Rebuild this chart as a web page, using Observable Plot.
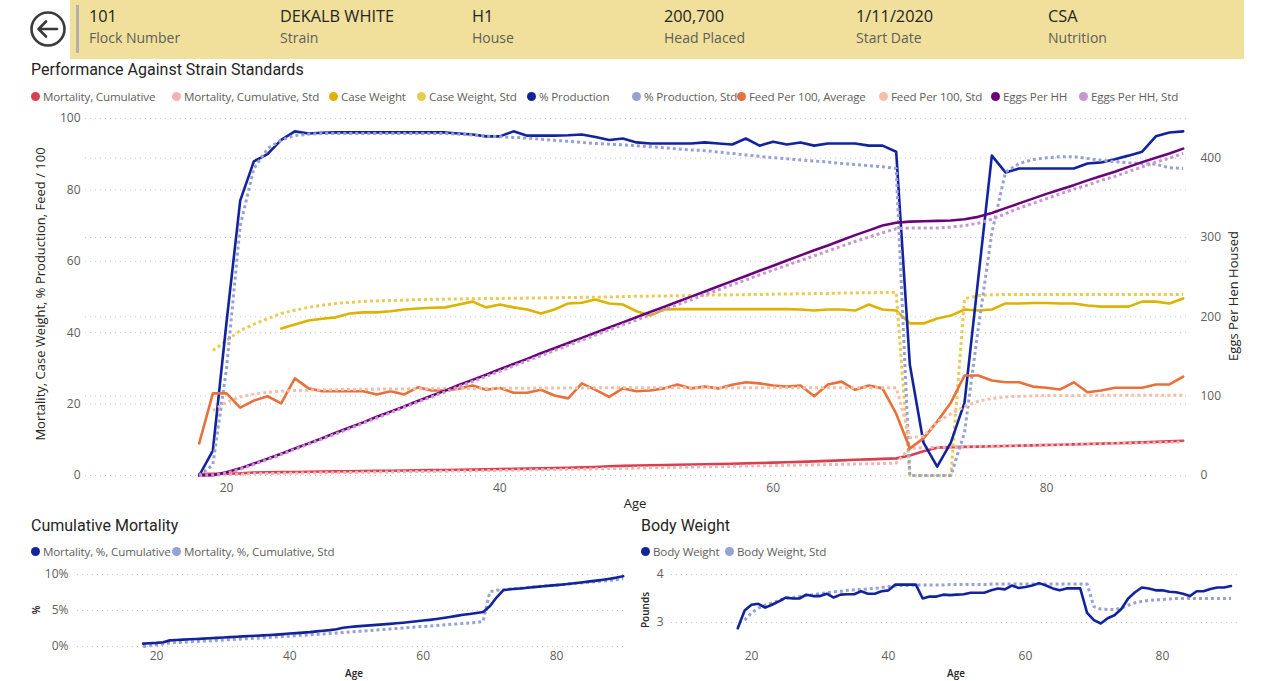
<!DOCTYPE html>
<html>
<head>
<meta charset="utf-8">
<script src="https://cdn.jsdelivr.net/npm/d3@7"></script>
<script src="https://cdn.jsdelivr.net/npm/@observablehq/plot@0.6"></script>
<style>
  html, body { margin: 0; padding: 0; background: #fff; }
  #page { position: relative; width: 1264px; height: 681px; overflow: hidden; font-family: "Open Sans", sans-serif; }
  .abs { position: absolute; }
  .band { left: 70px; top: 0; width: 1174px; height: 59px; background: #F0E09B; }
  .bar { left: 76px; top: 5px; width: 3px; height: 48px; background: #B3B0AD; }
  .hv { font-size: 16.3px; color: #252423; white-space: nowrap; }
  .hl { font-size: 14px; color: #605E5C; white-space: nowrap; }
  .title { font-family: Roboto, sans-serif; font-size: 16px; color: #252423; white-space: nowrap; }
  .leg { font-size: 11.6px; letter-spacing: -0.15px; color: #605E5C; white-space: nowrap; display: flex; align-items: center; }
  .dot { width: 9px; height: 9px; border-radius: 50%; display: inline-block; margin-right: 3px; }
  .axt { font-size: 13px; color: #252423; white-space: nowrap; }
  .axs { font-size: 10px; color: #252423; white-space: nowrap; font-weight: 600; }
</style>
</head>
<body>
<div id="page"></div>
<script>
// ---------------- data ----------------
const headerValues = ["101", "DEKALB WHITE", "H1", "200,700", "1/11/2020", "CSA"];
const headerLabels = ["Flock Number", "Strain", "House", "Head Placed", "Start Date", "Nutrition"];

const ages = [18,19,20,21,22,23,24,25,26,27,28,29,30,31,32,33,34,35,36,37,38,39,40,41,42,43,44,45,46,47,48,49,50,51,52,53,54,
  55,56,57,58,59,60,61,62,63,64,65,66,67,68,69,70,71,72,73,74,75,76,77,78,79,80,81,82,83,84,85,86,87,88,89,90];

const mortality = [0.4,0.45,0.5,0.6,0.85,0.9,0.95,1.0,1.05,1.1,1.15,1.2,1.25,1.3,1.35,1.4,1.45,1.5,1.55,1.6,1.65,1.72,1.8,1.86,1.93,2.0,2.1,
  2.18,2.27,2.4,2.6,2.7,2.8,2.87,2.93,3.0,3.07,3.14,3.22,3.3,3.4,3.5,3.6,3.7,3.82,3.95,4.1,4.25,4.4,4.52,4.65,4.8,5.6,6.8,7.8,7.95,
  8.02,8.1,8.2,8.28,8.36,8.45,8.53,8.62,8.72,8.82,8.93,9.04,9.15,9.28,9.42,9.57,9.75];
const mortalityStd = [0.0,0.1,0.2,0.35,0.5,0.55,0.6,0.65,0.7,0.75,0.8,0.85,0.9,0.95,1.0,1.05,1.1,1.15,1.2,1.26,1.32,1.38,1.44,1.5,1.56,1.62,
  1.68,1.74,1.8,1.87,1.94,2.01,2.08,2.15,2.22,2.29,2.36,2.43,2.5,2.57,2.64,2.71,2.78,2.85,2.92,2.99,3.06,3.13,3.2,3.27,3.34,3.5,7.6,7.8,
  7.9,7.98,8.06,8.14,8.22,8.3,8.38,8.46,8.54,8.62,8.7,8.78,8.86,8.94,9.02,9.1,9.18,9.28,9.4];

const caseWeight = [null,null,null,null,null,null,41.2,42.3,43.4,43.9,44.3,45.4,45.7,45.7,46.0,46.5,46.8,47.0,47.1,47.9,48.7,47.1,47.9,47.1,
  46.5,45.4,46.5,48.2,48.4,49.3,48.2,47.9,46.0,44.8,46.5,46.6,46.6,46.6,46.6,46.6,46.6,46.6,46.6,46.6,46.5,46.2,46.5,46.5,46.2,47.9,46.5,
  46.2,42.6,42.6,44.0,44.8,46.5,46.2,46.5,48.2,48.2,48.3,48.3,48.2,48.2,47.6,47.3,47.3,47.3,48.7,48.7,48.2,49.6];
const caseWeightStd = [null,35.0,37.8,40.6,42.4,43.9,45.4,46.3,47.1,47.7,48.2,48.5,48.8,48.9,49.0,49.1,49.3,49.35,49.4,49.45,49.5,49.55,49.6,
  49.65,49.7,49.75,49.8,49.85,49.9,49.95,50.0,50.1,50.2,50.25,50.3,50.35,50.4,50.5,50.55,50.6,50.65,50.7,50.8,50.85,50.9,50.95,51.0,51.1,
  51.15,51.2,51.25,51.3,0,0,0,0,49.5,50.4,50.6,50.7,50.7,50.7,50.7,50.7,50.7,50.7,50.7,50.7,50.7,50.7,50.7,50.7,50.7];

const production = [0,7,43,77,88,90,94,96.4,95.8,96.0,96.1,96.1,96.1,96.1,96.1,96.1,96.1,96.1,96.1,95.8,95.5,95.0,95.0,96.4,95.2,95.2,95.2,
  95.3,95.5,94.8,94.0,94.4,93.3,93.0,93.0,93.0,93.0,93.3,93.0,92.7,94.4,92.4,93.5,92.7,93.3,92.4,93.0,93.0,93.0,92.4,92.4,90.7,31,9.2,2.5,
  9.2,20.4,55,89.6,84.9,86,86,86,86,86,87.4,87.7,88.6,89.6,90.7,95.0,96.1,96.4];
const productionStd = [0,3,30,70,86,91.5,94,95.2,95.6,95.8,95.8,95.8,95.8,95.8,95.8,95.8,95.8,95.8,95.8,95.6,95.4,95.1,94.9,94.7,94.5,94.2,
  93.9,93.6,93.3,93.0,92.8,92.6,92.4,92.1,91.8,91.5,91.2,91.0,90.6,90.2,89.8,89.4,89.0,88.7,88.4,88.1,87.8,87.4,87.1,86.8,86.5,86.0,0,0,0,0,
  12,41,68,85,87.4,88.5,89.0,89.3,89.3,88.8,88.3,87.9,87.6,87.4,87.2,86.2,86.0];

const feed = [9,23,23,19,21,22.2,20.2,27.2,24.4,23.6,23.6,23.6,23.6,22.7,23.6,22.7,24.7,23.8,23.8,24.3,25.2,24.0,24.5,23.2,23.2,24.0,22.4,
  21.6,25.8,24.0,22.0,24.4,23.6,23.8,24.4,25.5,24.4,24.9,24.4,25.4,26.1,25.8,25.2,24.9,25.2,22.2,25.5,26.3,24.0,25.2,24.4,17.3,7.6,10.4,15.1,
  20.4,28,28,26.6,26.1,26.1,24.9,24.6,24.1,26.1,23.3,23.8,24.6,24.6,24.6,25.5,25.5,27.7];
const feedStd = [null,18.2,20.5,22.0,22.8,23.3,23.6,23.8,23.9,24.0,24.05,24.1,24.15,24.2,24.2,24.25,24.3,24.3,24.35,24.35,24.4,24.4,24.4,24.45,
  24.45,24.5,24.5,24.5,24.5,24.55,24.55,24.55,24.6,24.6,24.6,24.6,24.6,24.6,24.6,24.6,24.6,24.6,24.6,24.6,24.6,24.6,24.6,24.6,24.6,24.6,
  24.6,24.6,10.6,11.0,15.0,17.3,19.3,20.8,21.6,22.0,22.2,22.3,22.4,22.4,22.4,22.45,22.45,22.5,22.5,22.5,22.5,22.5,22.5];

const eggs = [0,0.5,4,9,15,21,27.5,34,40.5,47,54,60.5,67,74,80.5,87,94,100.5,107,114,120.5,127,134,140.5,147,154,160.5,167,173.5,180,186.5,
  193,199.5,206,212.5,219,225.5,232,238.5,245,251.5,258,264.5,271,277.5,284,290,296.5,303,309,315,318.5,320,320.5,321,321.5,323,326,331,337,
  343,349,355,360.5,366,372,377.5,383,389,395,400.5,406,412];
const eggsStd = [0,0.5,3,8,14,20,26.5,33,39.5,46,52.5,59,66,72.5,79,86,92.5,99,105.5,112,118.5,125,131.5,138,144.5,151,157.5,164,170.5,177,
  183.5,190,196,202.5,209,215.5,221.5,228,234,240.5,246.5,253,259,265,271,277,283,289,295,300.5,306,311,312,312,312,313,315,318,323,330,
  337,343,349,355,361,366,372,377,383,389,395,400,406];

const bodyWeight = [2.88,3.25,3.37,3.39,3.31,3.37,3.44,3.52,3.5,3.5,3.58,3.55,3.55,3.6,3.52,3.58,3.59,3.59,3.65,3.6,3.6,3.65,3.67,3.79,3.79,
  3.79,3.79,3.5,3.54,3.54,3.58,3.57,3.58,3.59,3.62,3.62,3.62,3.67,3.71,3.69,3.77,3.72,3.74,3.77,3.82,3.77,3.71,3.67,3.71,3.71,3.71,3.2,3.05,
  2.98,3.09,3.15,3.28,3.5,3.63,3.73,3.71,3.67,3.67,3.64,3.63,3.6,3.55,3.65,3.65,3.7,3.73,3.73,3.76];
const bodyWeightStd = [null,3.05,3.2,3.3,3.36,3.41,3.46,3.5,3.52,3.54,3.56,3.58,3.6,3.62,3.64,3.65,3.67,3.68,3.69,3.7,3.71,3.73,3.75,3.76,3.77,
  3.77,3.78,3.78,3.78,3.78,3.78,3.79,3.79,3.79,3.79,3.79,3.79,3.8,3.8,3.8,3.8,3.8,3.8,3.8,3.8,3.8,3.8,3.8,3.8,3.8,3.8,3.8,3.33,3.28,3.27,
  3.27,3.3,3.36,3.41,3.44,3.46,3.47,3.48,3.49,3.5,3.5,3.5,3.5,3.5,3.5,3.5,3.5,3.5];

const mainTicksLeft = [0, 20, 40, 60, 80, 100];
const mainTicksRight = [0, 100, 200, 300, 400];
const ageTicks = [20, 40, 60, 80];
const mortTicks = [0, 5, 10];
const bwTicks = [3, 4];

const mainSeries = [
  {name: "Mortality, Cumulative", values: mortality, color: "#D9404F", dash: null, right: false},
  {name: "Mortality, Cumulative, Std", values: mortalityStd, color: "#F1B3B8", dash: "3,3", right: false},
  {name: "Case Weight", values: caseWeight, color: "#DDB200", dash: null, right: false},
  {name: "Case Weight, Std", values: caseWeightStd, color: "#EACB52", dash: "3,3", right: false},
  {name: "% Production", values: production, color: "#12239E", dash: null, right: false},
  {name: "% Production, Std", values: productionStd, color: "#98A0D8", dash: "3,3", right: false},
  {name: "Feed Per 100, Average", values: feed, color: "#E8703A", dash: null, right: false},
  {name: "Feed Per 100, Std", values: feedStd, color: "#F5BEA8", dash: "3,3", right: false},
  {name: "Eggs Per HH", values: eggs, color: "#6B007B", dash: null, right: true},
  {name: "Eggs Per HH, Std", values: eggsStd, color: "#C897D2", dash: "3,3", right: true}
];

// ---------------- layout ----------------
const page = document.getElementById("page");
function el(cls, html, style) {
  const d = document.createElement("div");
  d.className = "abs " + cls;
  d.innerHTML = html;
  Object.assign(d.style, style);
  page.appendChild(d);
  return d;
}

el("band", "", {});
el("bar", "", {});
el("", `<svg width="40" height="40" viewBox="0 0 40 40"><circle cx="20" cy="20" r="16.5" fill="none" stroke="#3B3A39" stroke-width="2.6"/>
  <path d="M29 20 H11 M18 12.5 L10.5 20 L18 27.5" fill="none" stroke="#3B3A39" stroke-width="2.6" stroke-linecap="round" stroke-linejoin="round"/></svg>`,
  {left: "28px", top: "9px", width: "40px", height: "40px"});
const hx = [89, 280, 472, 664, 856, 1048];
headerValues.forEach((v, i) => {
  el("hv", v, {left: hx[i] + "px", top: "5px"});
  el("hl", headerLabels[i], {left: hx[i] + "px", top: "28px"});
});

el("title", "Performance Against Strain Standards", {left: "31px", top: "60px"});
const legX = [31, 172, 329, 417, 527, 632, 737, 879, 991, 1079];
mainSeries.forEach((s, i) => {
  el("leg", `<span class="dot" style="background:${s.color}"></span>${s.name}`, {left: legX[i] + "px", top: "89px"});
});

// ---------------- main chart ----------------
const k = 100 / 450;
const rows = (vals, scale) => ages.map((a, i) => ({age: a, v: vals[i] == null ? null : vals[i] * scale}));
const dotted = {stroke: "#C8C6C4", strokeDasharray: "1,4", strokeOpacity: 1};
const lineOpts = (color, dash) => ({
  x: "age", y: "v", stroke: color, strokeWidth: dash ? 3 : 2.6,
  strokeDasharray: dash, strokeLinecap: dash ? "butt" : "round", strokeLinejoin: "round"
});
const main = Plot.plot({
  width: 1264, height: 410,
  marginTop: 13, marginBottom: 40, marginLeft: 85, marginRight: 76,
  style: {fontFamily: "'Open Sans', sans-serif", fontSize: "12px", color: "#605E5C", background: "transparent"},
  x: {domain: [9.68, 90.39]},
  y: {domain: [0, 100]},
  marks: [
    Plot.gridY(mainTicksLeft, dotted),
    Plot.gridY(mainTicksRight.map(t => t * k), dotted),
    Plot.axisY(mainTicksLeft, {tickSize: 0, tickPadding: 5, label: null}),
    Plot.axisY(mainTicksRight.map(t => t * k), {anchor: "right", tickSize: 0, tickPadding: 12, label: null, tickFormat: d => String(Math.round(d / k))}),
    Plot.axisX(ageTicks, {tickSize: 0, tickPadding: 8, label: null}),
    ...mainSeries.map(s => Plot.line(rows(s.values, s.right ? k : 1), lineOpts(s.color, s.dash)))
  ]
});
main.style.position = "absolute";
main.style.left = "0px";
main.style.top = "105px";
page.appendChild(main);

el("axt", "Mortality, Case Weight, % Production, Feed / 100", {left: "40px", top: "294px", transform: "translate(-50%,-50%) rotate(-90deg)"});
el("axt", "Eggs Per Hen Housed", {left: "1233px", top: "296px", transform: "translate(-50%,-50%) rotate(-90deg)"});
el("axt", "Age", {left: "635px", top: "503px", transform: "translate(-50%,-50%)"});

// ---------------- bottom left ----------------
el("title", "Cumulative Mortality", {left: "31px", top: "516px"});
el("leg", `<span class="dot" style="background:#12239E"></span>Mortality, %, Cumulative`, {left: "31px", top: "544px"});
el("leg", `<span class="dot" style="background:#98A0D8"></span>Mortality, %, Cumulative, Std`, {left: "172px", top: "544px"});

const mort = Plot.plot({
  width: 640, height: 121,
  marginTop: 14, marginBottom: 35, marginLeft: 77, marginRight: 13,
  style: {fontFamily: "'Open Sans', sans-serif", fontSize: "12px", color: "#605E5C", background: "transparent"},
  x: {domain: [8.15, 90.65]},
  y: {domain: [0, 10]},
  marks: [
    Plot.gridY(mortTicks, dotted),
    Plot.axisY(mortTicks, {tickSize: 0, tickPadding: 9, label: null, tickFormat: d => d + "%"}),
    Plot.axisX(ageTicks, {tickSize: 0, tickPadding: 5, label: null}),
    Plot.line(rows(mortalityStd, 1), lineOpts("#98A0D8", "3,3")),
    Plot.line(rows(mortality, 1), lineOpts("#12239E", null))
  ]
});
mort.style.position = "absolute";
mort.style.left = "0px";
mort.style.top = "560px";
page.appendChild(mort);
el("axs", "%", {left: "36px", top: "610px", transform: "translate(-50%,-50%) rotate(-90deg)"});
el("axs", "Age", {left: "354px", top: "673px", transform: "translate(-50%,-50%)"});

// ---------------- bottom right ----------------
el("title", "Body Weight", {left: "641px", top: "516px"});
el("leg", `<span class="dot" style="background:#12239E"></span>Body Weight`, {left: "641px", top: "544px"});
el("leg", `<span class="dot" style="background:#98A0D8"></span>Body Weight, Std`, {left: "725px", top: "544px"});

const bw = Plot.plot({
  width: 624, height: 121,
  marginTop: 14, marginBottom: 35, marginLeft: 31, marginRight: 24,
  style: {fontFamily: "'Open Sans', sans-serif", fontSize: "12px", color: "#605E5C", background: "transparent"},
  x: {domain: [8.32, 91.4]},
  y: {domain: [2.5, 4]},
  marks: [
    Plot.gridY(bwTicks, dotted),
    Plot.axisY(bwTicks, {tickSize: 0, tickPadding: 8, label: null}),
    Plot.axisX(ageTicks, {tickSize: 0, tickPadding: 5, label: null}),
    Plot.line(rows(bodyWeightStd, 1), lineOpts("#98A0D8", "3,3")),
    Plot.line(rows(bodyWeight, 1), lineOpts("#12239E", null))
  ]
});
bw.style.position = "absolute";
bw.style.left = "640px";
bw.style.top = "560px";
page.appendChild(bw);
el("axs", "Pounds", {left: "645px", top: "610px", transform: "translate(-50%,-50%) rotate(-90deg)"});
el("axs", "Age", {left: "956px", top: "673px", transform: "translate(-50%,-50%)"});
</script>
</body>
</html>
